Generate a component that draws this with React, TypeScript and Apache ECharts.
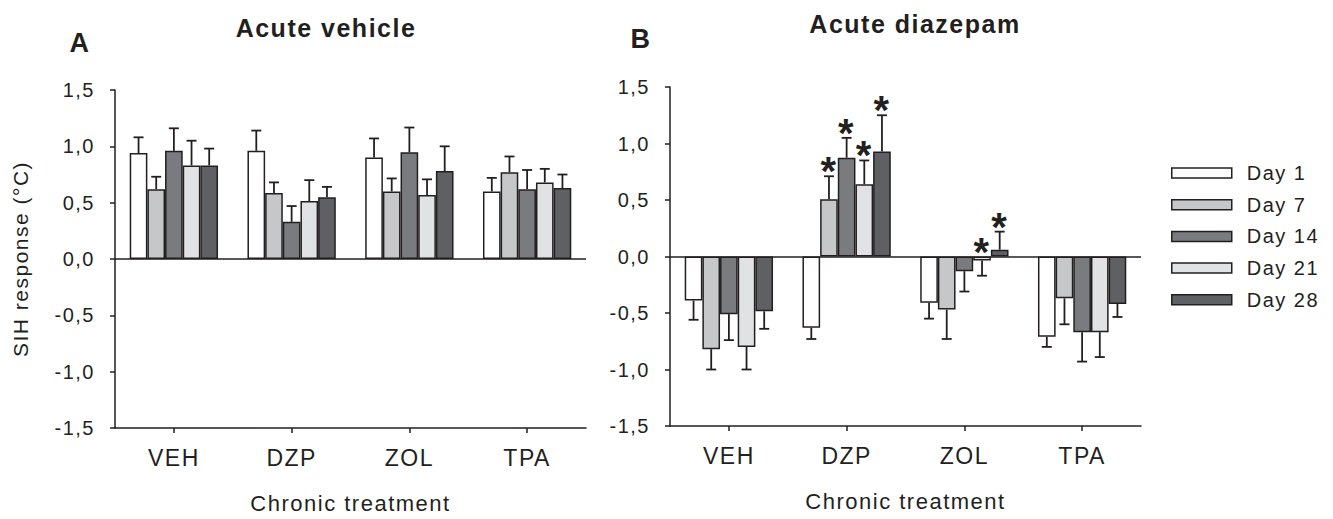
import React, { useEffect, useRef } from 'react';
import * as echarts from 'echarts';

const categories = ['VEH', 'DZP', 'ZOL', 'TPA'];
const dayNames = ['Day 1', 'Day 7', 'Day 14', 'Day 21', 'Day 28'];
const dayColors = ['#ffffff', '#c6c7c9', '#7a7b7f', '#e1e2e4', '#5f6063'];

// Panel A: Acute vehicle (means, SEM)
const vehDay1 = [0.94, 0.96, 0.9, 0.6];
const vehDay7 = [0.62, 0.585, 0.6, 0.77];
const vehDay14 = [0.96, 0.33, 0.947, 0.62];
const vehDay21 = [0.83, 0.515, 0.567, 0.68];
const vehDay28 = [0.83, 0.547, 0.78, 0.63];
const vehSem1 = [0.14, 0.18, 0.17, 0.12];
const vehSem7 = [0.11, 0.095, 0.115, 0.14];
const vehSem14 = [0.2, 0.14, 0.22, 0.17];
const vehSem21 = [0.22, 0.185, 0.14, 0.12];
const vehSem28 = [0.15, 0.093, 0.22, 0.12];

// Panel B: Acute diazepam (means, SEM, significance)
const dzpDay1 = [-0.39, -0.63, -0.41, -0.71];
const dzpDay7 = [-0.82, 0.506, -0.47, -0.37];
const dzpDay14 = [-0.51, 0.874, -0.13, -0.67];
const dzpDay21 = [-0.8, 0.64, -0.035, -0.67];
const dzpDay28 = [-0.485, 0.93, 0.06, -0.42];
const dzpSem1 = [0.17, 0.1, 0.14, 0.09];
const dzpSem7 = [0.18, 0.204, 0.26, 0.23];
const dzpSem14 = [0.23, 0.176, 0.18, 0.26];
const dzpSem21 = [0.2, 0.21, 0.135, 0.22];
const dzpSem28 = [0.155, 0.32, 0.16, 0.115];
const dzpStar1 = [0, 0, 0, 0];
const dzpStar7 = [0, 1, 0, 0];
const dzpStar14 = [0, 1, 0, 0];
const dzpStar21 = [0, 1, 1, 0];
const dzpStar28 = [0, 1, 1, 0];

const FONT = '"Liberation Sans", Arial, Helvetica, sans-serif';
const INK = '#231f20';

const vehMeans = [vehDay1, vehDay7, vehDay14, vehDay21, vehDay28];
const vehSems = [vehSem1, vehSem7, vehSem14, vehSem21, vehSem28];
const dzpMeans = [dzpDay1, dzpDay7, dzpDay14, dzpDay21, dzpDay28];
const dzpSems = [dzpSem1, dzpSem7, dzpSem14, dzpSem21, dzpSem28];
const dzpStars = [dzpStar1, dzpStar7, dzpStar14, dzpStar21, dzpStar28];

function errRows(means: number[][], sems: number[][], stars?: number[][]) {
  const rows: number[][] = [];
  means.forEach((arr, d) => {
    arr.forEach((m, c) => {
      rows.push([c, d, m, sems[d][c], stars ? stars[d][c] : 0]);
    });
  });
  return rows;
}

const renderErr = (params: any, api: any) => {
  const cat = api.value(0);
  const day = api.value(1);
  const mean = api.value(2);
  const sem = api.value(3);
  const star = api.value(4);
  const band = api.size([1, 0])[0];
  const barW = band * 0.15;
  const base = api.coord([cat, mean]);
  const x = base[0] + (day - 2) * barW;
  const end = mean >= 0 ? mean + sem : mean - sem;
  const yEnd = api.coord([cat, end])[1];
  const children: any[] = [
    { type: 'line', shape: { x1: x, y1: base[1], x2: x, y2: yEnd }, style: { stroke: INK, lineWidth: 1.8 } },
    { type: 'line', shape: { x1: x - 5, y1: yEnd, x2: x + 5, y2: yEnd }, style: { stroke: INK, lineWidth: 1.8 } },
  ];
  if (star) {
    const anchor = mean >= 0 ? end : 0;
    const ya = api.coord([cat, anchor])[1];
    children.push({
      type: 'text',
      x: x,
      y: ya - 5,
      style: { text: '*', fontSize: 40, fontWeight: 'bold', fill: INK, align: 'center', verticalAlign: 'middle', fontFamily: FONT },
    });
  }
  return { type: 'group', children };
};

export default function App() {
  const ref = useRef<HTMLDivElement>(null);
  useEffect(() => {
    if (!ref.current) return;
    const chart = echarts.init(ref.current, undefined, { renderer: 'svg' });
    const yAxisBase = (gridIndex: number, withName: boolean) => ({
      type: 'value',
      gridIndex,
      min: -1.5,
      max: 1.5,
      interval: 0.5,
      axisLine: { show: true, lineStyle: { color: INK, width: 1.5 } },
      axisTick: { show: true, inside: false, length: 5, lineStyle: { color: INK, width: 1.5 } },
      splitLine: { show: false },
      axisLabel: {
        fontSize: 20,
        color: INK,
        fontFamily: FONT,
        margin: 20,
        formatter: (v: number) => v.toFixed(1).replace('.', ','),
      },
      name: withName ? 'SIH response (°C)' : '',
      nameLocation: 'middle',
      nameGap: 84,
      nameTextStyle: { fontSize: 21, color: INK, fontFamily: FONT },
    });
    const xAxisBase = (gridIndex: number) => ({
      type: 'category',
      gridIndex,
      data: categories,
      axisLine: { show: true, onZero: false, lineStyle: { color: INK, width: 1.5 } },
      axisTick: { show: true, alignWithLabel: true, length: 5, lineStyle: { color: INK, width: 1.5 } },
      axisLabel: { fontSize: 23, color: INK, fontFamily: FONT, margin: 18 },
      name: 'Chronic treatment',
      nameLocation: 'middle',
      nameGap: 64,
      nameTextStyle: { fontSize: 22, color: INK, fontFamily: FONT },
    });
    const zeroLine = {
      silent: true,
      symbol: 'none',
      label: { show: false },
      lineStyle: { color: INK, width: 1.5, type: 'solid' },
      data: [{ yAxis: 0 }],
    };
    const barSeries = (means: number[][], gridIdx: number) =>
      means.map((arr, d) => ({
        type: 'bar',
        name: dayNames[d],
        xAxisIndex: gridIdx,
        yAxisIndex: gridIdx,
        data: arr,
        barGap: '0%',
        barCategoryGap: '25%',
        itemStyle: { color: dayColors[d], borderColor: INK, borderWidth: 1.5 },
        markLine: d === 4 ? zeroLine : undefined,
        z: 2,
      }));
    const option: any = {
      animation: false,
      textStyle: { fontFamily: FONT },
      grid: [
        { left: 115, top: 90, width: 471, height: 340 },
        { left: 670, top: 87, width: 471, height: 339 },
      ],
      xAxis: [xAxisBase(0), xAxisBase(1)],
      yAxis: [yAxisBase(0, true), yAxisBase(1, false)],
      legend: {
        orient: 'vertical',
        left: 1166,
        top: 158,
        itemWidth: 60,
        itemHeight: 10,
        itemGap: 11.7,
        icon: 'rect',
        data: dayNames,
        textStyle: { fontSize: 20, color: INK, fontFamily: FONT, lineHeight: 20, padding: [0, 0, 0, 10] },
        itemStyle: { borderColor: INK, borderWidth: 1.5 },
      },
      graphic: [
        { type: 'text', x: 80, y: 43, style: { text: 'A', fontSize: 27, fontWeight: 'bold', fill: INK, align: 'center', verticalAlign: 'middle', fontFamily: FONT } },
        { type: 'text', x: 326, y: 28, style: { text: 'Acute vehicle', fontSize: 25, fontWeight: 'bold', fill: INK, align: 'center', verticalAlign: 'middle', fontFamily: FONT } },
        { type: 'text', x: 641, y: 39, style: { text: 'B', fontSize: 27, fontWeight: 'bold', fill: INK, align: 'center', verticalAlign: 'middle', fontFamily: FONT } },
        { type: 'text', x: 915, y: 24, style: { text: 'Acute diazepam', fontSize: 25, fontWeight: 'bold', fill: INK, align: 'center', verticalAlign: 'middle', fontFamily: FONT } },
      ],
      series: [
        ...barSeries(vehMeans, 0),
        ...barSeries(dzpMeans, 1),
        {
          type: 'custom',
          name: 'errA',
          xAxisIndex: 0,
          yAxisIndex: 0,
          renderItem: renderErr,
          data: errRows(vehMeans, vehSems),
          encode: { x: 0, y: 2 },
          z: 5,
          silent: true,
        },
        {
          type: 'custom',
          name: 'errB',
          xAxisIndex: 1,
          yAxisIndex: 1,
          renderItem: renderErr,
          data: errRows(dzpMeans, dzpSems, dzpStars),
          encode: { x: 0, y: 2 },
          z: 5,
          silent: true,
        },
      ],
    };
    chart.setOption(option);
    return () => chart.dispose();
  }, []);
  return (
    <>
      <style>{`#chart text { letter-spacing: 1.5px; }`}</style>
      <div id="chart" ref={ref} style={{ position: 'fixed', left: 0, top: 0, width: 1333, height: 519, background: '#fff' }} />
    </>
  );
}
